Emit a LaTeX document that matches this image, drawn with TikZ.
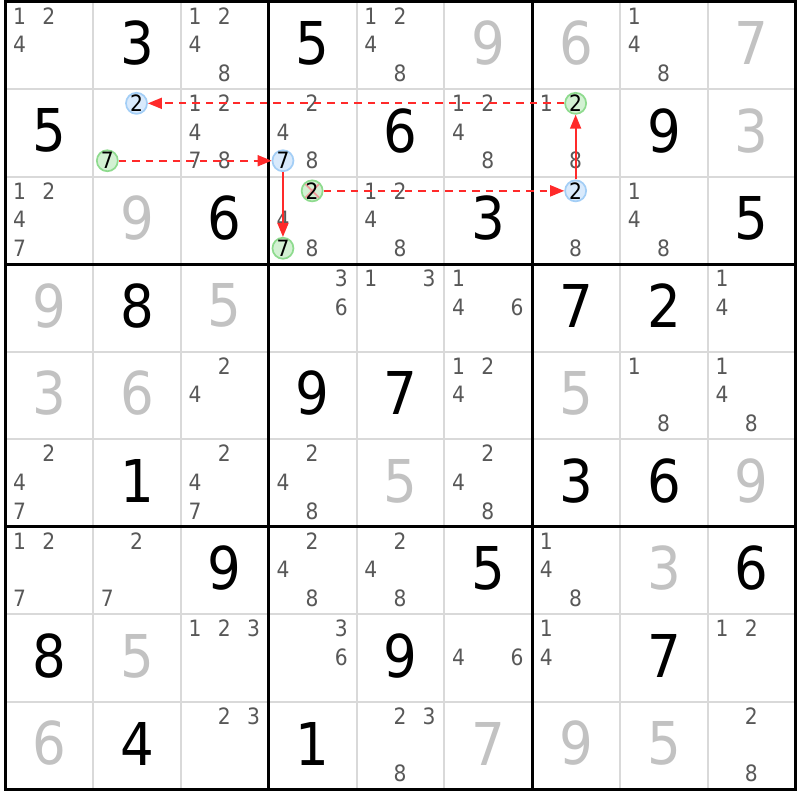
\documentclass[tikz,border=0pt]{standalone}
\usepackage{fontspec}
\setmainfont{DejaVu Sans}[FakeStretch=0.9]
\usetikzlibrary{arrows.meta}
\definecolor{givenc}{HTML}{000000}
\definecolor{solvedc}{HTML}{C2C2C2}
\definecolor{candc}{HTML}{585858}
\definecolor{thinc}{HTML}{D9D9D9}
\definecolor{bluefill}{HTML}{D9EAFC}
\definecolor{bluedraw}{HTML}{A3CEF6}
\definecolor{greenfill}{HTML}{D3F1D3}
\definecolor{greendraw}{HTML}{8EDB8E}
\definecolor{linkred}{HTML}{FF2A2A}
\definecolor{xpink}{HTML}{F09A9A}

\newcommand\CW{87.82}
\newcommand\CH{87.53}
\newcommand\XO{5.3}
\newcommand\YO{1.5}

\newcommand\GivenDigit[4]{%
  \pgfmathsetmacro\gx{\XO+(#3-0.5)*\CW}%
  \pgfmathsetmacro\gy{\YO+(#2-0.5)*\CH-2}%
  \node[#1] (g#2c#3) at (\gx,\gy) {#4};}

\newcommand\CandPos[3]{%
  \pgfmathsetmacro\px{\XO+(#2-1)*\CW+14.2+mod(#3-1,3)*29.2}%
  \pgfmathsetmacro\py{\YO+(#1-1)*\CH+14.3+floor((#3-1)/3)*28.7}}

\newcommand\Cands[3]{\foreach \k in {#3}{\CandPos{#1}{#2}{\k}\node[cand] (r#1c#2n\k) at (\px,\py) {\k};}}

\newcommand\CircCand[4]{\CandPos{#2}{#3}{#4}\node[#1] (r#2c#3n#4) at (\px,\py) {#4};}

\begin{document}
\begin{tikzpicture}[x=1pt,y=-1pt,
  bigd/.style={font=\fontsize{59}{59}\selectfont, inner sep=0pt},
  givd/.style={bigd, text=givenc},
  solvd/.style={bigd, text=solvedc},
  cand/.style={text=candc, font=\fontsize{22.5}{22.5}\selectfont, inner sep=0pt},
  circbase/.style={circle, minimum size=21pt, inner sep=0pt, line width=1.7pt, text=black, font=\fontsize{22.5}{22.5}\selectfont},
  bluec/.style={circbase, fill=bluefill, draw=bluedraw},
  greenc/.style={circbase, fill=greenfill, draw=greendraw},
  greenx/.style={greenc, path picture={\draw[xpink, line width=1.8pt] (path picture bounding box.north west) -- (path picture bounding box.south east) (path picture bounding box.north east) -- (path picture bounding box.south west);}},
  thinline/.style={draw=thinc, line width=2pt},
  thickline/.style={draw=black, line width=3pt},
  dlink/.style={draw=linkred, line width=1.8pt, dash pattern=on 7.5pt off 6pt, -{Triangle[length=14pt,width=11pt]}},
  slink/.style={draw=linkred, line width=1.8pt, -{Triangle[length=14pt,width=11pt]}}
]
\useasboundingbox (0,0) rectangle (800,800);
\fill[white] (0,0) rectangle (800,800);

% thin grid lines
\foreach \i in {1,2,4,5,7,8}{
  \draw[thinline] ({\XO+\i*\CW},\YO) -- ({\XO+\i*\CW},{\YO+9*\CH});
  \draw[thinline] (\XO,{\YO+\i*\CH}) -- ({\XO+9*\CW},{\YO+\i*\CH});
}
% thick grid lines
\foreach \i in {3,6}{
  \draw[thickline] ({\XO+\i*\CW},\YO) -- ({\XO+\i*\CW},{\YO+9*\CH});
  \draw[thickline] (\XO,{\YO+\i*\CH}) -- ({\XO+9*\CW},{\YO+\i*\CH});
}
\draw[thickline] (\XO,\YO) rectangle ({\XO+9*\CW},{\YO+9*\CH});

% row 1
\Cands{1}{1}{1,2,4}
\GivenDigit{givd}{1}{2}{3}
\Cands{1}{3}{1,2,4,8}
\GivenDigit{givd}{1}{4}{5}
\Cands{1}{5}{1,2,4,8}
\GivenDigit{solvd}{1}{6}{9}
\GivenDigit{solvd}{1}{7}{6}
\Cands{1}{8}{1,4,8}
\GivenDigit{solvd}{1}{9}{7}
% row 2
\GivenDigit{givd}{2}{1}{5}
\Cands{2}{3}{1,2,4,7,8}
\Cands{2}{4}{2,4,8}
\GivenDigit{givd}{2}{5}{6}
\Cands{2}{6}{1,2,4,8}
\Cands{2}{7}{1,8}
\GivenDigit{givd}{2}{8}{9}
\GivenDigit{solvd}{2}{9}{3}
% row 3
\Cands{3}{1}{1,2,4,7}
\GivenDigit{solvd}{3}{2}{9}
\GivenDigit{givd}{3}{3}{6}
\Cands{3}{4}{4,8}
\Cands{3}{5}{1,2,4,8}
\GivenDigit{givd}{3}{6}{3}
\Cands{3}{7}{8}
\Cands{3}{8}{1,4,8}
\GivenDigit{givd}{3}{9}{5}
% row 4
\GivenDigit{solvd}{4}{1}{9}
\GivenDigit{givd}{4}{2}{8}
\GivenDigit{solvd}{4}{3}{5}
\Cands{4}{4}{3,6}
\Cands{4}{5}{1,3}
\Cands{4}{6}{1,4,6}
\GivenDigit{givd}{4}{7}{7}
\GivenDigit{givd}{4}{8}{2}
\Cands{4}{9}{1,4}
% row 5
\GivenDigit{solvd}{5}{1}{3}
\GivenDigit{solvd}{5}{2}{6}
\Cands{5}{3}{2,4}
\GivenDigit{givd}{5}{4}{9}
\GivenDigit{givd}{5}{5}{7}
\Cands{5}{6}{1,2,4}
\GivenDigit{solvd}{5}{7}{5}
\Cands{5}{8}{1,8}
\Cands{5}{9}{1,4,8}
% row 6
\Cands{6}{1}{2,4,7}
\GivenDigit{givd}{6}{2}{1}
\Cands{6}{3}{2,4,7}
\Cands{6}{4}{2,4,8}
\GivenDigit{solvd}{6}{5}{5}
\Cands{6}{6}{2,4,8}
\GivenDigit{givd}{6}{7}{3}
\GivenDigit{givd}{6}{8}{6}
\GivenDigit{solvd}{6}{9}{9}
% row 7
\Cands{7}{1}{1,2,7}
\Cands{7}{2}{2,7}
\GivenDigit{givd}{7}{3}{9}
\Cands{7}{4}{2,4,8}
\Cands{7}{5}{2,4,8}
\GivenDigit{givd}{7}{6}{5}
\Cands{7}{7}{1,4,8}
\GivenDigit{solvd}{7}{8}{3}
\GivenDigit{givd}{7}{9}{6}
% row 8
\GivenDigit{givd}{8}{1}{8}
\GivenDigit{solvd}{8}{2}{5}
\Cands{8}{3}{1,2,3}
\Cands{8}{4}{3,6}
\GivenDigit{givd}{8}{5}{9}
\Cands{8}{6}{4,6}
\Cands{8}{7}{1,4}
\GivenDigit{givd}{8}{8}{7}
\Cands{8}{9}{1,2}
% row 9
\GivenDigit{solvd}{9}{1}{6}
\GivenDigit{givd}{9}{2}{4}
\Cands{9}{3}{2,3}
\GivenDigit{givd}{9}{4}{1}
\Cands{9}{5}{2,3,8}
\GivenDigit{solvd}{9}{6}{7}
\GivenDigit{solvd}{9}{7}{9}
\GivenDigit{solvd}{9}{8}{5}
\Cands{9}{9}{2,8}

% chain candidates
\CircCand{bluec}{2}{2}{2}
\CircCand{greenc}{2}{2}{7}
\CircCand{bluec}{2}{4}{7}
\CircCand{greenc}{2}{7}{2}
\CircCand{greenx}{3}{4}{2}
\CircCand{greenc}{3}{4}{7}
\CircCand{bluec}{3}{7}{2}

% links
\draw[dlink] (r2c7n2) -- (r2c2n2);
\draw[dlink] (r2c2n7) -- (r2c4n7);
\draw[slink] (r2c4n7) -- (r3c4n7);
\draw[dlink] (r3c4n2) -- (r3c7n2);
\draw[slink] (r3c7n2) -- (r2c7n2);
\end{tikzpicture}
\end{document}
